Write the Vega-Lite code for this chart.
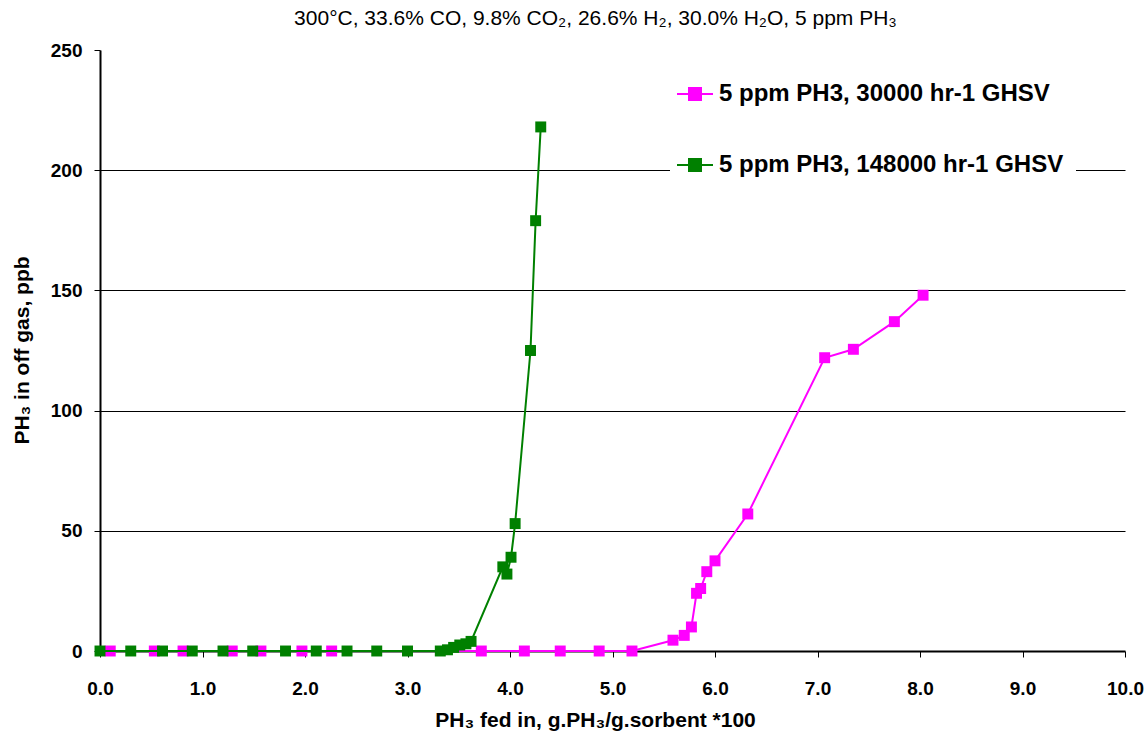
{
  "$schema": "https://vega.github.io/schema/vega-lite/v6.json",
  "width": 1025,
  "height": 601,
  "autosize": {"type": "none"},
  "padding": {"left": 100, "top": 50, "right": 21, "bottom": 86},
  "background": "white",
  "title": {
    "text": "300°C, 33.6% CO, 9.8% CO₂, 26.6% H₂, 30.0% H₂O, 5 ppm PH₃",
    "font": "Liberation Sans",
    "fontSize": 21,
    "fontWeight": "normal",
    "color": "black",
    "anchor": "middle",
    "frame": "group",
    "dx": -17,
    "offset": 12
  },
  "datasets": {
    "points": [
      {"series": "5 ppm PH3, 30000 hr-1 GHSV", "x": 0.1, "y": 0},
      {"series": "5 ppm PH3, 30000 hr-1 GHSV", "x": 0.53, "y": 0},
      {"series": "5 ppm PH3, 30000 hr-1 GHSV", "x": 0.81, "y": 0},
      {"series": "5 ppm PH3, 30000 hr-1 GHSV", "x": 1.29, "y": 0},
      {"series": "5 ppm PH3, 30000 hr-1 GHSV", "x": 1.57, "y": 0},
      {"series": "5 ppm PH3, 30000 hr-1 GHSV", "x": 1.97, "y": 0},
      {"series": "5 ppm PH3, 30000 hr-1 GHSV", "x": 2.26, "y": 0},
      {"series": "5 ppm PH3, 30000 hr-1 GHSV", "x": 3.72, "y": 0},
      {"series": "5 ppm PH3, 30000 hr-1 GHSV", "x": 4.14, "y": 0},
      {"series": "5 ppm PH3, 30000 hr-1 GHSV", "x": 4.49, "y": 0},
      {"series": "5 ppm PH3, 30000 hr-1 GHSV", "x": 4.87, "y": 0},
      {"series": "5 ppm PH3, 30000 hr-1 GHSV", "x": 5.19, "y": 0},
      {"series": "5 ppm PH3, 30000 hr-1 GHSV", "x": 5.59, "y": 4.5},
      {"series": "5 ppm PH3, 30000 hr-1 GHSV", "x": 5.7, "y": 6.5},
      {"series": "5 ppm PH3, 30000 hr-1 GHSV", "x": 5.77, "y": 10},
      {"series": "5 ppm PH3, 30000 hr-1 GHSV", "x": 5.82, "y": 24},
      {"series": "5 ppm PH3, 30000 hr-1 GHSV", "x": 5.86, "y": 26},
      {"series": "5 ppm PH3, 30000 hr-1 GHSV", "x": 5.92, "y": 33},
      {"series": "5 ppm PH3, 30000 hr-1 GHSV", "x": 6.0, "y": 37.5},
      {"series": "5 ppm PH3, 30000 hr-1 GHSV", "x": 6.32, "y": 57},
      {"series": "5 ppm PH3, 30000 hr-1 GHSV", "x": 7.07, "y": 122},
      {"series": "5 ppm PH3, 30000 hr-1 GHSV", "x": 7.35, "y": 125.5},
      {"series": "5 ppm PH3, 30000 hr-1 GHSV", "x": 7.75, "y": 137},
      {"series": "5 ppm PH3, 30000 hr-1 GHSV", "x": 8.03, "y": 148},
      {"series": "5 ppm PH3, 148000 hr-1 GHSV", "x": 0.0, "y": 0},
      {"series": "5 ppm PH3, 148000 hr-1 GHSV", "x": 0.3, "y": 0},
      {"series": "5 ppm PH3, 148000 hr-1 GHSV", "x": 0.61, "y": 0},
      {"series": "5 ppm PH3, 148000 hr-1 GHSV", "x": 0.9, "y": 0},
      {"series": "5 ppm PH3, 148000 hr-1 GHSV", "x": 1.2, "y": 0},
      {"series": "5 ppm PH3, 148000 hr-1 GHSV", "x": 1.49, "y": 0},
      {"series": "5 ppm PH3, 148000 hr-1 GHSV", "x": 1.81, "y": 0},
      {"series": "5 ppm PH3, 148000 hr-1 GHSV", "x": 2.11, "y": 0},
      {"series": "5 ppm PH3, 148000 hr-1 GHSV", "x": 2.41, "y": 0},
      {"series": "5 ppm PH3, 148000 hr-1 GHSV", "x": 2.7, "y": 0},
      {"series": "5 ppm PH3, 148000 hr-1 GHSV", "x": 3.0, "y": 0},
      {"series": "5 ppm PH3, 148000 hr-1 GHSV", "x": 3.32, "y": 0},
      {"series": "5 ppm PH3, 148000 hr-1 GHSV", "x": 3.39, "y": 0.5},
      {"series": "5 ppm PH3, 148000 hr-1 GHSV", "x": 3.45, "y": 1.5},
      {"series": "5 ppm PH3, 148000 hr-1 GHSV", "x": 3.51, "y": 2.5},
      {"series": "5 ppm PH3, 148000 hr-1 GHSV", "x": 3.57, "y": 3},
      {"series": "5 ppm PH3, 148000 hr-1 GHSV", "x": 3.62, "y": 4},
      {"series": "5 ppm PH3, 148000 hr-1 GHSV", "x": 3.93, "y": 35},
      {"series": "5 ppm PH3, 148000 hr-1 GHSV", "x": 3.97, "y": 32},
      {"series": "5 ppm PH3, 148000 hr-1 GHSV", "x": 4.01, "y": 39},
      {"series": "5 ppm PH3, 148000 hr-1 GHSV", "x": 4.05, "y": 53},
      {"series": "5 ppm PH3, 148000 hr-1 GHSV", "x": 4.2, "y": 125},
      {"series": "5 ppm PH3, 148000 hr-1 GHSV", "x": 4.25, "y": 179},
      {"series": "5 ppm PH3, 148000 hr-1 GHSV", "x": 4.3, "y": 218}
    ]
  },
  "data": {"name": "points"},
  "encoding": {
    "x": {
      "field": "x",
      "type": "quantitative",
      "scale": {"domain": [0, 10], "nice": false, "zero": false},
      "axis": {
        "title": "PH₃ fed in, g.PH₃/g.sorbent *100",
        "values": [0, 1, 2, 3, 4, 5, 6, 7, 8, 9, 10],
        "format": ".1f",
        "grid": false,
        "labelFlush": false,
        "titleX": 495,
        "titleY": 69,
        "titleBaseline": "middle",
        "labelPadding": 22
      }
    },
    "y": {
      "field": "y",
      "type": "quantitative",
      "scale": {"domain": [0, 250], "nice": false},
      "axis": {
        "title": "PH₃ in off gas, ppb",
        "values": [0, 50, 100, 150, 200, 250],
        "grid": true,
        "gridColor": "black",
        "gridOpacity": {"condition": {"test": "datum.value == 0 || datum.value == 250", "value": 0}, "value": 1},
        "labelFlush": false,
        "titleX": -78,
        "titleY": 300,
        "titleBaseline": "middle",
        "titleAngle": -90,
        "labelPadding": 12
      }
    },
    "color": {
      "field": "series",
      "type": "nominal",
      "scale": {
        "domain": ["5 ppm PH3, 30000 hr-1 GHSV", "5 ppm PH3, 148000 hr-1 GHSV"],
        "range": ["#FF00FF", "#008000"]
      },
      "legend": {
        "title": null,
        "orient": "none",
        "legendX": 570,
        "legendY": 19,
        "fillColor": "white",
        "padding": 12,
        "rowPadding": 46,
        "symbolType": "M-1.5,0H1.5M-0.5,-0.5H0.5V0.5H-0.5Z",
        "symbolSize": 576,
        "symbolStrokeWidth": 2,
        "labelFont": "Liberation Sans",
        "labelFontWeight": "bold",
        "labelFontSize": 24,
        "labelColor": "black",
        "labelOffset": 11,
        "labelLimit": 600,
        "encode": {
          "symbols": {
            "update": {
              "fill": {"scale": "color", "field": "value"},
              "stroke": {"scale": "color", "field": "value"},
              "strokeWidth": {"value": 2},
              "opacity": {"value": 1}
            }
          }
        }
      }
    }
  },
  "layer": [
    {
      "transform": [{"filter": "datum.series == '5 ppm PH3, 30000 hr-1 GHSV'"}],
      "mark": {"type": "line", "strokeWidth": 2, "point": {"shape": "square", "size": 120, "filled": true, "opacity": 1}}
    },
    {
      "transform": [{"filter": "datum.series == '5 ppm PH3, 148000 hr-1 GHSV'"}],
      "mark": {"type": "line", "strokeWidth": 2, "point": {"shape": "square", "size": 120, "filled": true, "opacity": 1}}
    }
  ],
  "config": {
    "view": {"stroke": null},
    "axis": {
      "domainColor": "black",
      "domainWidth": 2,
      "tickColor": "black",
      "tickSize": 6,
      "tickWidth": 1,
      "labelFont": "Liberation Sans",
      "labelFontWeight": "bold",
      "labelFontSize": 19,
      "labelColor": "black",
      "titleFont": "Liberation Sans",
      "titleFontWeight": "bold",
      "titleFontSize": 21,
      "titleColor": "black",
      "gridWidth": 1
    }
  }
}
